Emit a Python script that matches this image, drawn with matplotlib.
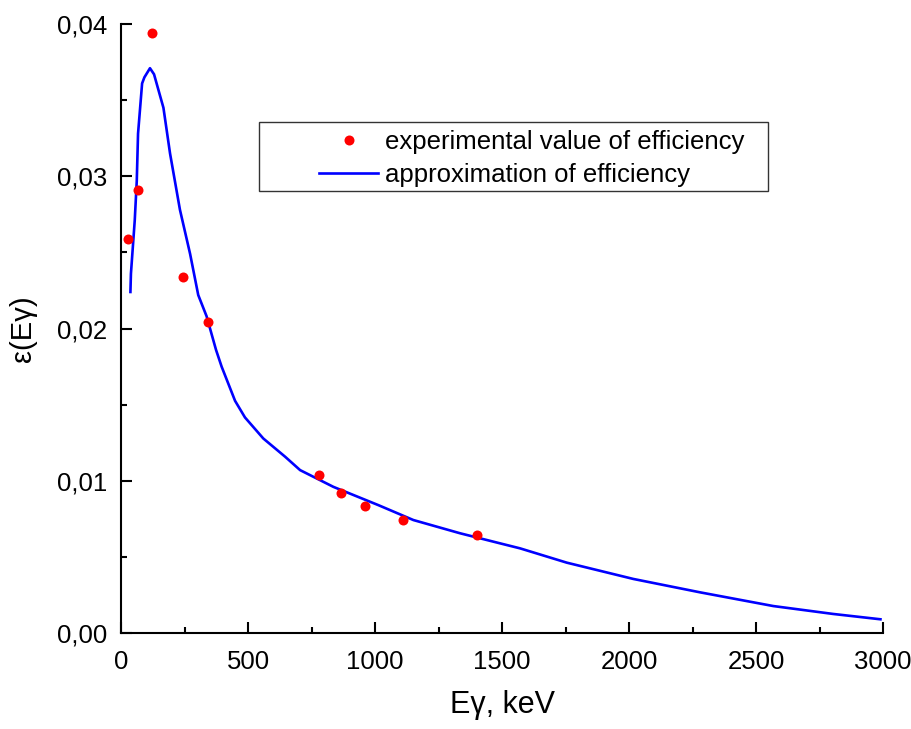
import numpy as np
import matplotlib
matplotlib.use('Agg')
import matplotlib.pyplot as plt
from matplotlib.patches import Rectangle
from matplotlib.ticker import MultipleLocator, FuncFormatter

# experimental points (keV, efficiency)
exp_energy = [29, 66, 122, 245, 344, 779, 866, 960, 1110, 1400]
exp_eff = [0.0259, 0.0291, 0.0394, 0.0234, 0.0204, 0.01035, 0.00918, 0.00837, 0.00741, 0.00643]

# approximation curve
fit_energy = [37, 39, 54, 62, 67, 83, 92, 114, 130, 167, 193, 232, 272, 304, 337, 374,
              396, 449, 488, 560, 646, 705, 836, 1013, 1151, 1335, 1492, 1571,
              1755, 2017, 2280, 2568, 2804, 2990]
fit_eff = [0.0224, 0.0236, 0.0271, 0.0297, 0.0328, 0.0361, 0.0365, 0.0371, 0.0367,
           0.0345, 0.0315, 0.0278, 0.0249, 0.0222, 0.0208, 0.0186,
           0.0175, 0.01525, 0.01416, 0.01278, 0.01158, 0.0107, 0.0096, 0.0084,
           0.00742, 0.00655, 0.00589, 0.00556, 0.00462, 0.00355, 0.00267,
           0.00177, 0.00125, 0.0009]

plt.rcParams.update({
    'font.family': 'Liberation Sans',
    'font.size': 18.5,
})

fig = plt.figure(figsize=(9.12, 7.29), dpi=100)
ax = fig.add_axes([0.1327, 0.1317, 0.8355, 0.8353])

ax.plot(exp_energy, exp_eff, 'o', color='#ff0000', markersize=7.2, markeredgewidth=0,
        label='experimental value of efficiency', clip_on=False, zorder=3)
ax.plot(fit_energy, fit_eff, '-', color='#0000ff', linewidth=1.9,
        label='approximation of efficiency')

ax.set_xlim(0, 3000)
ax.set_ylim(0, 0.04)
ax.xaxis.set_major_locator(MultipleLocator(500))
ax.xaxis.set_minor_locator(MultipleLocator(250))
ax.yaxis.set_major_locator(MultipleLocator(0.01))
ax.yaxis.set_minor_locator(MultipleLocator(0.005))
ax.yaxis.set_major_formatter(FuncFormatter(lambda v, p: f'{v:.2f}'.replace('.', ',')))

for side in ('top', 'right'):
    ax.spines[side].set_visible(False)
for side in ('left', 'bottom'):
    ax.spines[side].set_linewidth(1.5)
ax.tick_params(which='both', direction='in', width=1.5, labelsize=18.5)
ax.tick_params(which='major', length=8)
ax.tick_params(which='minor', length=4)
ax.tick_params(axis='x', which='major', pad=12)
ax.tick_params(axis='y', which='major', pad=10)

ax.set_xlabel('E\u03b3, keV', fontsize=22, labelpad=12)
ax.set_ylabel('\u03b5(E\u03b3)', fontsize=21, labelpad=14)

# legend box drawn by hand so the entries sit inset like the original
ax.add_patch(Rectangle((0.1811, 0.7258), 0.668, 0.1132, transform=ax.transAxes,
                       fill=False, edgecolor='#333333', linewidth=1.0, clip_on=False))
leg = ax.legend(loc='center left', bbox_to_anchor=(0.26, 0.779), borderaxespad=0,
                borderpad=0, frameon=False, handlelength=2.3, handletextpad=0.28,
                labelspacing=0.36, fontsize=18.5)

fig.savefig('out.png', dpi=100)
